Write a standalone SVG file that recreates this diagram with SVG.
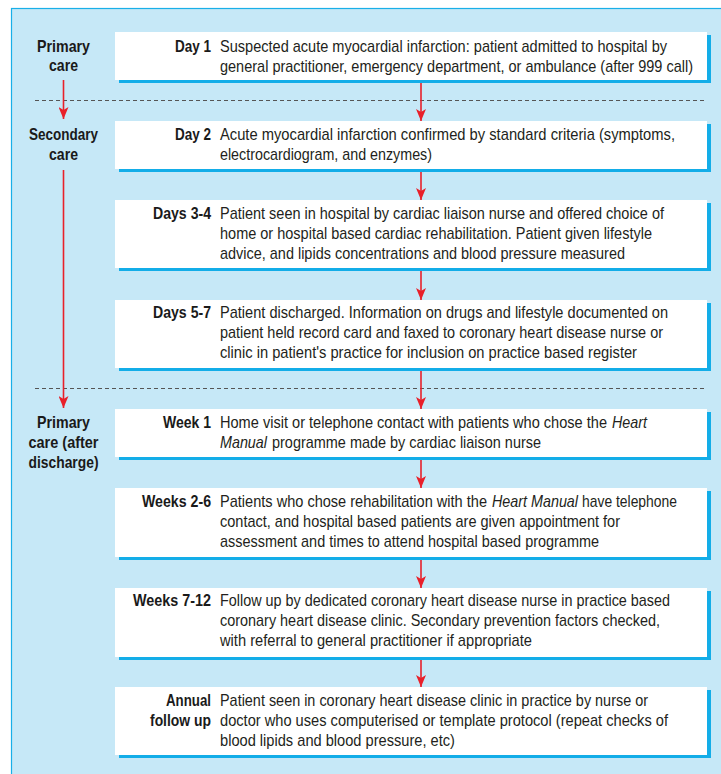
<svg xmlns="http://www.w3.org/2000/svg" width="721" height="774" viewBox="0 0 721 774">
<style>
.bg{fill:#c6e8f7;stroke:#19afe8;stroke-width:1.2}
.shadow{fill:#13ade8}
.box{fill:#ffffff}
.t{font-family:"Liberation Sans Narrow","Liberation Sans",Arial,sans-serif;font-size:16px;fill:#231f20}
.b{font-weight:bold;fill:#1a1a1a}
.lab{text-anchor:end}
.side{text-anchor:middle}
.i{font-style:italic}
.conn{stroke:#e8202a;stroke-width:1.6;fill:none}
.dash{stroke:#555;stroke-width:1;stroke-dasharray:4 3}
</style>
<defs>
<marker id="ah" markerUnits="userSpaceOnUse" markerWidth="12" markerHeight="10" viewBox="0 0 12 10" refX="12" refY="5" orient="auto">
<path d="M0,0 L12,5 L0,10 L3,5 Z" fill="#e8202a"/>
</marker>
</defs>
<rect class="bg" x="11.5" y="8.5" width="720" height="775"/>

<g id="separators">
<line class="dash" x1="35" y1="100.5" x2="707" y2="100.5"/>
<line class="dash" x1="35" y1="388.5" x2="707" y2="388.5"/>
</g>

<g id="phase-primary">
<text class="t b side" transform="translate(63.5 52) scale(0.8 1)" textLength="66.25" lengthAdjust="spacingAndGlyphs">Primary</text>
<text class="t b side" transform="translate(63.5 71) scale(0.8 1)" textLength="36.25" lengthAdjust="spacingAndGlyphs">care</text>
</g>
<g id="phase-secondary">
<text class="t b side" transform="translate(63.5 140) scale(0.8 1)" textLength="86.25" lengthAdjust="spacingAndGlyphs">Secondary</text>
<text class="t b side" transform="translate(63.5 160) scale(0.8 1)" textLength="36.25" lengthAdjust="spacingAndGlyphs">care</text>
</g>
<g id="phase-primary-after">
<text class="t b side" transform="translate(63.5 428) scale(0.8 1)" textLength="66.25" lengthAdjust="spacingAndGlyphs">Primary</text>
<text class="t b side" transform="translate(63.5 448) scale(0.8 1)" textLength="87.5" lengthAdjust="spacingAndGlyphs">care (after</text>
<text class="t b side" transform="translate(63.5 468) scale(0.8 1)" textLength="87.5" lengthAdjust="spacingAndGlyphs">discharge)</text>
</g>

<g id="day1">
<rect class="shadow" x="119" y="35" width="592" height="48"/>
<rect class="box" x="115" y="32" width="592" height="48"/>
<text class="t b lab" transform="translate(211 52) scale(0.8 1)" textLength="45" lengthAdjust="spacingAndGlyphs">Day 1</text>
<text class="t" transform="translate(220 52) scale(0.8 1)" textLength="558.75" lengthAdjust="spacingAndGlyphs">Suspected acute myocardial infarction: patient admitted to hospital by</text>
<text class="t" transform="translate(220 72) scale(0.8 1)" textLength="591.25" lengthAdjust="spacingAndGlyphs">general practitioner, emergency department, or ambulance (after 999 call)</text>
</g>

<g id="day2">
<rect class="shadow" x="119" y="124" width="592" height="48"/>
<rect class="box" x="115" y="121" width="592" height="48"/>
<text class="t b lab" transform="translate(211 140) scale(0.8 1)" textLength="45" lengthAdjust="spacingAndGlyphs">Day 2</text>
<text class="t" transform="translate(220 140) scale(0.8 1)" textLength="568.75" lengthAdjust="spacingAndGlyphs">Acute myocardial infarction confirmed by standard criteria (symptoms,</text>
<text class="t" transform="translate(220 160) scale(0.8 1)" textLength="265" lengthAdjust="spacingAndGlyphs">electrocardiogram, and enzymes)</text>
</g>

<g id="days3-4">
<rect class="shadow" x="119" y="203" width="592" height="68"/>
<rect class="box" x="115" y="200" width="592" height="68"/>
<text class="t b lab" transform="translate(211 219) scale(0.8 1)" textLength="72.5" lengthAdjust="spacingAndGlyphs">Days 3-4</text>
<text class="t" transform="translate(220 219) scale(0.8 1)" textLength="555" lengthAdjust="spacingAndGlyphs">Patient seen in hospital by cardiac liaison nurse and offered choice of</text>
<text class="t" transform="translate(220 239) scale(0.8 1)" textLength="540" lengthAdjust="spacingAndGlyphs">home or hospital based cardiac rehabilitation. Patient given lifestyle</text>
<text class="t" transform="translate(220 259) scale(0.8 1)" textLength="506.25" lengthAdjust="spacingAndGlyphs">advice, and lipids concentrations and blood pressure measured</text>
</g>

<g id="days5-7">
<rect class="shadow" x="119" y="303" width="592" height="68"/>
<rect class="box" x="115" y="300" width="592" height="68"/>
<text class="t b lab" transform="translate(211 318) scale(0.8 1)" textLength="72.5" lengthAdjust="spacingAndGlyphs">Days 5-7</text>
<text class="t" transform="translate(220 318) scale(0.8 1)" textLength="560" lengthAdjust="spacingAndGlyphs">Patient discharged. Information on drugs and lifestyle documented on</text>
<text class="t" transform="translate(220 338) scale(0.8 1)" textLength="553.75" lengthAdjust="spacingAndGlyphs">patient held record card and faxed to coronary heart disease nurse or</text>
<text class="t" transform="translate(220 358) scale(0.8 1)" textLength="521.25" lengthAdjust="spacingAndGlyphs">clinic in patient's practice for inclusion on practice based register</text>
</g>

<g id="week1">
<rect class="shadow" x="119" y="412" width="592" height="48"/>
<rect class="box" x="115" y="409" width="592" height="48"/>
<text class="t b lab" transform="translate(211 428) scale(0.8 1)" textLength="60" lengthAdjust="spacingAndGlyphs">Week 1</text>
<text class="t" transform="translate(220 428) scale(0.8 1)" textLength="483.75" lengthAdjust="spacingAndGlyphs">Home visit or telephone contact with patients who chose the</text>
<text class="t i" transform="translate(612 428) scale(0.8 1)" textLength="43.75" lengthAdjust="spacingAndGlyphs">Heart</text>
<text class="t i" transform="translate(220 448) scale(0.8 1)" textLength="58.75" lengthAdjust="spacingAndGlyphs">Manual</text>
<text class="t" transform="translate(272 448) scale(0.8 1)" textLength="336.25" lengthAdjust="spacingAndGlyphs">programme made by cardiac liaison nurse</text>
</g>

<g id="weeks2-6">
<rect class="shadow" x="119" y="491" width="592" height="69"/>
<rect class="box" x="115" y="488" width="592" height="69"/>
<text class="t b lab" transform="translate(211 507) scale(0.8 1)" textLength="86.25" lengthAdjust="spacingAndGlyphs">Weeks 2-6</text>
<text class="t" transform="translate(220 507) scale(0.8 1)" textLength="333.75" lengthAdjust="spacingAndGlyphs">Patients who chose rehabilitation with the</text>
<text class="t i" transform="translate(492 507) scale(0.8 1)" textLength="107.5" lengthAdjust="spacingAndGlyphs">Heart Manual</text>
<text class="t" transform="translate(582 507) scale(0.8 1)" textLength="118.75" lengthAdjust="spacingAndGlyphs">have telephone</text>
<text class="t" transform="translate(220 527) scale(0.8 1)" textLength="500" lengthAdjust="spacingAndGlyphs">contact, and hospital based patients are given appointment for</text>
<text class="t" transform="translate(220 547) scale(0.8 1)" textLength="473.75" lengthAdjust="spacingAndGlyphs">assessment and times to attend hospital based programme</text>
</g>

<g id="weeks7-12">
<rect class="shadow" x="119" y="591" width="592" height="69"/>
<rect class="box" x="115" y="588" width="592" height="69"/>
<text class="t b lab" transform="translate(211 606) scale(0.8 1)" textLength="97.5" lengthAdjust="spacingAndGlyphs">Weeks 7-12</text>
<text class="t" transform="translate(220 606) scale(0.8 1)" textLength="562.5" lengthAdjust="spacingAndGlyphs">Follow up by dedicated coronary heart disease nurse in practice based</text>
<text class="t" transform="translate(220 626) scale(0.8 1)" textLength="550" lengthAdjust="spacingAndGlyphs">coronary heart disease clinic. Secondary prevention factors checked,</text>
<text class="t" transform="translate(220 646) scale(0.8 1)" textLength="390" lengthAdjust="spacingAndGlyphs">with referral to general practitioner if appropriate</text>
</g>

<g id="annual">
<rect class="shadow" x="119" y="690" width="592" height="68"/>
<rect class="box" x="115" y="687" width="592" height="68"/>
<text class="t b lab" transform="translate(211 706) scale(0.8 1)" textLength="56.25" lengthAdjust="spacingAndGlyphs">Annual</text>
<text class="t b lab" transform="translate(211 726) scale(0.8 1)" textLength="76.25" lengthAdjust="spacingAndGlyphs">follow up</text>
<text class="t" transform="translate(220 706) scale(0.8 1)" textLength="535" lengthAdjust="spacingAndGlyphs">Patient seen in coronary heart disease clinic in practice by nurse or</text>
<text class="t" transform="translate(220 726) scale(0.8 1)" textLength="560" lengthAdjust="spacingAndGlyphs">doctor who uses computerised or template protocol (repeat checks of</text>
<text class="t" transform="translate(220 746) scale(0.8 1)" textLength="293.75" lengthAdjust="spacingAndGlyphs">blood lipids and blood pressure, etc)</text>
</g>

<g id="connectors">
<line class="conn" x1="63.5" y1="80" x2="63.5" y2="119" marker-end="url(#ah)"/>
<line class="conn" x1="63.5" y1="170" x2="63.5" y2="408" marker-end="url(#ah)"/>
<line class="conn" x1="421" y1="83" x2="421" y2="121" marker-end="url(#ah)"/>
<line class="conn" x1="421" y1="172" x2="421" y2="200" marker-end="url(#ah)"/>
<line class="conn" x1="421" y1="271" x2="421" y2="300" marker-end="url(#ah)"/>
<line class="conn" x1="421" y1="371" x2="421" y2="409" marker-end="url(#ah)"/>
<line class="conn" x1="421" y1="460" x2="421" y2="488" marker-end="url(#ah)"/>
<line class="conn" x1="421" y1="560" x2="421" y2="588" marker-end="url(#ah)"/>
<line class="conn" x1="421" y1="660" x2="421" y2="687" marker-end="url(#ah)"/>
</g>
</svg>
